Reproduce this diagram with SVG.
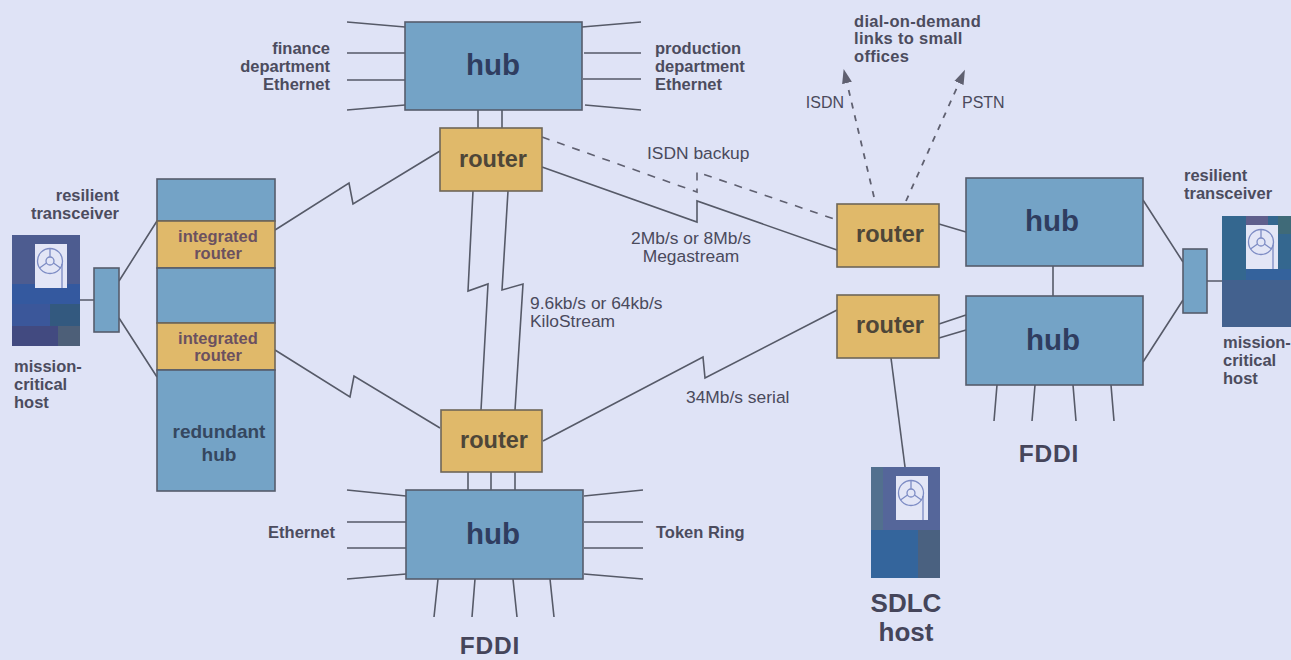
<svg xmlns="http://www.w3.org/2000/svg" width="1291" height="660" viewBox="0 0 1291 660">
<style>
text{font-family:"Liberation Sans",Arial,sans-serif}
.box{stroke:#565c6c;stroke-width:1.6}
.hub{fill:#74a3c6}
.rt{fill:#e0b96a;stroke:#6e6658;stroke-width:1.6}
.lbl{font-weight:700;font-size:16.5px;fill:#4c4c5e}
.reg{font-size:17.4px;fill:#4a4a5c}
.sm{font-size:16px;fill:#4a4a5c}
.hubt{font-weight:700;font-size:29.5px;fill:#2f3d60;text-anchor:middle}
.rtt{font-weight:700;font-size:23.5px;fill:#4e4638;text-anchor:middle}
.irt{font-weight:700;font-size:16.5px;fill:#6b5160;text-anchor:middle}
.red{font-weight:700;font-size:19px;fill:#35475f;text-anchor:middle}
.big{font-weight:700;fill:#45455a;text-anchor:middle}
.ln{fill:none;stroke:#565a68;stroke-width:1.6;stroke-linejoin:miter}
.dash{fill:none;stroke:#5f6070;stroke-width:1.6;stroke-dasharray:8 8}
.dash2{fill:none;stroke:#5f6070;stroke-width:1.8;stroke-dasharray:6 7}
</style>
<defs>
<marker id="ah" markerUnits="userSpaceOnUse" markerWidth="15" markerHeight="11" refX="0" refY="5.500" orient="auto"><path d="M0 0.500L14.500 5.500L0 10.500Z" fill="#5f6070"/></marker>
<g id="disk">
<rect x="0" y="0" width="32" height="44" fill="#e3e6f6"/>
<circle cx="15" cy="17" r="12.500" fill="none" stroke="#7d8cc4" stroke-width="1.300"/>
<circle cx="15" cy="17" r="4" fill="none" stroke="#7d8cc4" stroke-width="1.300"/>
<path d="M15 4.500V13M11.500 19L4.500 24M18.500 19L25.500 24M27 20V44" fill="none" stroke="#7d8cc4" stroke-width="1.300"/>
</g>
</defs>
<rect id="background" width="1291" height="660" fill="#dfe3f6"/>

<g id="connectors">
<path class="ln" d="M347 22L405 27M347 53H405M347 80H405M347 110L405 105M582 27L641 22M584 53H641M583 79H641M585 105L641 110"/>
<path class="ln" d="M347 490L406 496M347 522H406M347 548H406M347 579L406 574M584 496L643 490M584 522H643M584 548H643M584 574L643 579"/>
<path class="ln" d="M438 579L434 617M475 579L472 617M513 579L517 617M550 579L554 617"/>
<path class="ln" d="M997 385L994 421M1035 385L1032 421M1073 385L1076 421M1111 385L1114 421"/>
<path class="ln" d="M478 110V128M502 110V128M468 472V490M491 472V490M515 472V490"/>
<path class="ln" d="M275 230L349 183L353 204L440 151"/>
<path class="ln" d="M275 350L350 397L354 376L440 428"/>
<path class="ln" d="M542 167L697 222V201L837 250"/>
<path class="dash" d="M542 137L697 192V172L837 220"/>
<path class="ln" d="M473 191L468 291L488 284L481 410"/>
<path class="ln" d="M508 191L502 290L523 284L515 410"/>
<path class="ln" d="M543 441L703 357L705 378L837 310"/>
<path class="ln" d="M939 224L966 232M939 324L966 315M939 338L966 330M1053 266V296M1143 200L1183 262M1143 362L1183 300M1207 281H1222"/>
<path class="ln" d="M891 358L905 467"/>
<path class="ln" d="M119 281L157 221M119 318L157 377M80 300H94"/>
<path class="dash2" d="M874 197L847 83" marker-end="url(#ah)"/>
<path class="dash2" d="M906 201L959 83" marker-end="url(#ah)"/>
</g>

<g id="hub-top"><rect class="box hub" x="405" y="22" width="177" height="88"/><text class="hubt" x="493" y="75">hub</text></g>
<g id="router-top"><rect class="rt" x="440" y="128" width="102" height="63"/><text class="rtt" x="493" y="167">router</text></g>
<g id="router-bottom"><rect class="rt" x="441" y="410" width="101" height="62"/><text class="rtt" x="494" y="448">router</text></g>
<g id="hub-bottom"><rect class="box hub" x="406" y="490" width="177" height="89"/><text class="hubt" x="493" y="544">hub</text></g>
<g id="router-right-1"><rect class="rt" x="837" y="204" width="102" height="63"/><text class="rtt" x="890" y="242">router</text></g>
<g id="router-right-2"><rect class="rt" x="837" y="295" width="102" height="63"/><text class="rtt" x="890" y="333">router</text></g>
<g id="hub-right-1"><rect class="box hub" x="966" y="178" width="177" height="88"/><text class="hubt" x="1052" y="231">hub</text></g>
<g id="hub-right-2"><rect class="box hub" x="966" y="296" width="177" height="89"/><text class="hubt" x="1053" y="350">hub</text></g>

<g id="redundant-hub">
<rect class="box hub" x="157" y="179" width="118" height="42"/>
<rect class="rt" x="157" y="221" width="118" height="47"/>
<rect class="box hub" x="157" y="268" width="118" height="55"/>
<rect class="rt" x="157" y="323" width="118" height="47"/>
<rect class="box hub" x="157" y="370" width="118" height="121"/>
<text class="irt" x="218" y="242">integrated</text>
<text class="irt" x="218" y="259">router</text>
<text class="irt" x="218" y="344">integrated</text>
<text class="irt" x="218" y="361">router</text>
<text class="red" x="219" y="438">redundant</text>
<text class="red" x="219" y="461">hub</text>
</g>

<g id="transceiver-left"><rect class="box hub" x="94" y="268" width="25" height="64"/></g>
<g id="transceiver-right"><rect class="box hub" x="1183" y="249" width="24" height="64"/></g>

<g id="host-left">
<rect x="12" y="235" width="68" height="111" fill="#4d5c90"/>
<rect x="12" y="284" width="68" height="20" fill="#34599f"/>
<rect x="12" y="304" width="38" height="22" fill="#3b579a"/>
<rect x="50" y="304" width="30" height="22" fill="#33597f"/>
<rect x="12" y="326" width="46" height="20" fill="#424a80"/>
<rect x="58" y="326" width="22" height="20" fill="#4d5f78"/>
<use href="#disk" x="35" y="244"/>
</g>
<g id="host-right">
<rect x="1222" y="216" width="69" height="64" fill="#34678f"/>
<rect x="1246" y="216" width="22" height="9" fill="#5f5f8c"/>
<rect x="1278" y="216" width="13" height="18" fill="#3f6a78"/>
<rect x="1246" y="269" width="45" height="11" fill="#34629c"/>
<rect x="1222" y="280" width="69" height="47" fill="#43618e"/>
<use href="#disk" x="1246" y="225"/>
</g>
<g id="host-sdlc">
<rect x="871" y="467" width="69" height="63" fill="#55669a"/>
<rect x="871" y="467" width="12" height="63" fill="#52708e"/>
<rect x="871" y="530" width="69" height="48" fill="#34659c"/>
<rect x="918" y="530" width="22" height="48" fill="#4a6180"/>
<use href="#disk" x="896" y="476"/>
</g>

<g id="labels">
<text class="lbl" x="119" y="201" text-anchor="end">resilient</text>
<text class="lbl" x="119" y="219" text-anchor="end">transceiver</text>
<text class="lbl" x="14" y="372">mission-</text>
<text class="lbl" x="14" y="390">critical</text>
<text class="lbl" x="14" y="408">host</text>
<text class="lbl" x="1184" y="181">resilient</text>
<text class="lbl" x="1184" y="199">transceiver</text>
<text class="lbl" x="1223" y="348">mission-</text>
<text class="lbl" x="1223" y="366">critical</text>
<text class="lbl" x="1223" y="384">host</text>
<text class="lbl" x="330" y="54" text-anchor="end">finance</text>
<text class="lbl" x="330" y="72" text-anchor="end">department</text>
<text class="lbl" x="330" y="90" text-anchor="end">Ethernet</text>
<text class="lbl" x="655" y="54">production</text>
<text class="lbl" x="655" y="72">department</text>
<text class="lbl" x="655" y="90">Ethernet</text>
<text class="lbl" x="854" y="27" letter-spacing="0.300">dial-on-demand</text>
<text class="lbl" x="854" y="44" letter-spacing="0.300">links to small</text>
<text class="lbl" x="854" y="62" letter-spacing="0.300">offices</text>
<text class="sm" x="844" y="108" text-anchor="end">ISDN</text>
<text class="sm" x="962" y="108">PSTN</text>
<text class="reg" x="647" y="159">ISDN backup</text>
<text class="reg" x="691" y="244" text-anchor="middle">2Mb/s or 8Mb/s</text>
<text class="reg" x="691" y="262" text-anchor="middle">Megastream</text>
<text class="reg" x="530" y="309">9.6kb/s or 64kb/s</text>
<text class="reg" x="530" y="327">KiloStream</text>
<text class="reg" x="686" y="403">34Mb/s serial</text>
<text class="lbl" x="335" y="538" text-anchor="end">Ethernet</text>
<text class="lbl" x="656" y="538">Token Ring</text>
<text class="big" x="490" y="654" font-size="24.500" letter-spacing="0.800">FDDI</text>
<text class="big" x="1049" y="462" font-size="24.500" letter-spacing="0.800">FDDI</text>
<text class="big" x="906" y="612" font-size="26">SDLC</text>
<text class="big" x="906" y="641" font-size="26">host</text>
</g>
</svg>
